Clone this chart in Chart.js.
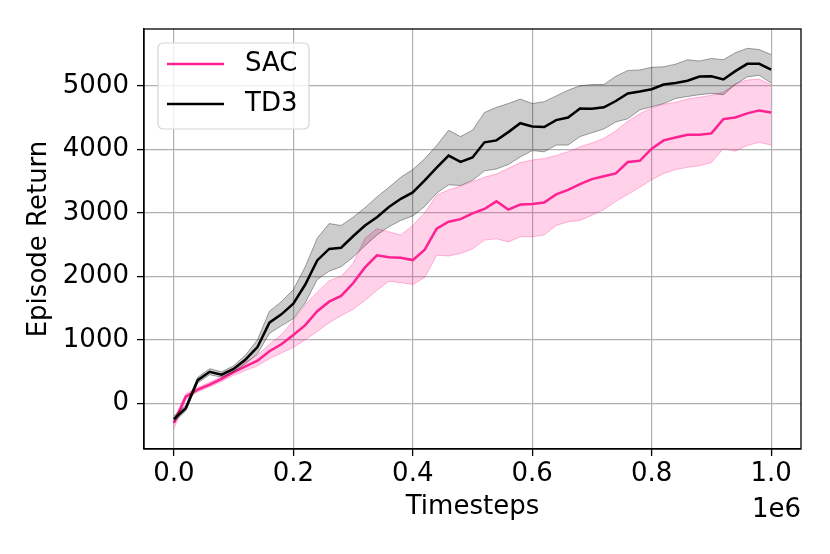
<!DOCTYPE html>
<html>
<head>
<meta charset="utf-8">
<script src="https://cdn.jsdelivr.net/npm/chart.js@4/dist/chart.umd.min.js"></script>
<style>
  html, body { margin: 0; padding: 0; background: #fff; }
  #wrap { width: 830px; height: 554px; }
</style>
</head>
<body>
<div id="wrap"><canvas id="myChart" width="830" height="554"></canvas></div>
<script>
// timesteps in units of 1e6
const timesteps = [0.00, 0.02, 0.04, 0.06, 0.08, 0.10, 0.12, 0.14, 0.16, 0.18,
                   0.20, 0.22, 0.24, 0.26, 0.28, 0.30, 0.32, 0.34, 0.36, 0.38,
                   0.40, 0.42, 0.44, 0.46, 0.48, 0.50, 0.52, 0.54, 0.56, 0.58,
                   0.60, 0.62, 0.64, 0.66, 0.68, 0.70, 0.72, 0.74, 0.76, 0.78,
                   0.80, 0.82, 0.84, 0.86, 0.88, 0.90, 0.92, 0.94, 0.96, 0.98, 1.00];

const sacMean  = [-312, 104, 215, 295, 385, 490, 580, 670, 820, 930,
                  1075, 1230, 1450, 1600, 1690, 1890, 2140, 2330, 2300, 2290,
                  2255, 2420, 2750, 2860, 2900, 2990, 3060, 3180, 3050, 3130,
                  3140, 3160, 3290, 3360, 3450, 3530, 3575, 3620, 3800, 3818,
                  4010, 4140, 4185, 4228, 4230, 4250, 4475, 4500, 4565, 4612, 4578];
const sacUpper = [-250, 150, 250, 330, 425, 545, 650, 760, 930, 1080,
                  1300, 1550, 1750, 1930, 2000, 2200, 2600, 2750, 2700, 2650,
                  2800, 3000, 3280, 3360, 3420, 3490, 3560, 3610, 3700, 3790,
                  3830, 3856, 3900, 3960, 4040, 4100, 4170, 4290, 4440, 4560,
                  4650, 4710, 4740, 4790, 4820, 4850, 4900, 5030, 5090, 5105, 5016];
const sacLower = [-400, 60, 180, 260, 345, 440, 515, 590, 700, 790,
                  880, 1000, 1130, 1270, 1380, 1480, 1620, 1780, 1920, 1900,
                  1870, 1980, 2330, 2320, 2360, 2430, 2570, 2590, 2540, 2622,
                  2622, 2650, 2800, 2858, 2880, 2960, 3050, 3180, 3290, 3400,
                  3520, 3620, 3680, 3715, 3740, 3790, 4013, 3970, 4060, 4110, 4066];

const td3Mean  = [-250, -78, 365, 495, 450, 540, 690, 885, 1270, 1400,
                  1570, 1870, 2250, 2430, 2450, 2630, 2800, 2930, 3090, 3220,
                  3320, 3510, 3710, 3900, 3800, 3870, 4110, 4140, 4270, 4410,
                  4360, 4350, 4459, 4500, 4643, 4640, 4660, 4760, 4880, 4910,
                  4945, 5020, 5045, 5080, 5145, 5148, 5100, 5230, 5345, 5345, 5253];
const td3Upper = [-200, -30, 410, 545, 495, 590, 760, 1000, 1450, 1600,
                  1790, 2150, 2600, 2830, 2800, 2930, 3080, 3250, 3400, 3560,
                  3680, 3850, 4060, 4300, 4200, 4300, 4580, 4660, 4720, 4790,
                  4720, 4750, 4840, 4930, 5000, 5020, 5020, 5150, 5240, 5250,
                  5290, 5300, 5340, 5410, 5390, 5430, 5410, 5520, 5590, 5570, 5491];
const td3Lower = [-300, -120, 320, 450, 410, 495, 625, 780, 1100, 1220,
                  1330, 1580, 1950, 2080, 2150, 2300, 2480, 2650, 2780, 2880,
                  2950, 3100, 3310, 3440, 3430, 3510, 3660, 3690, 3760, 3880,
                  3980, 3960, 4066, 4066, 4200, 4260, 4320, 4430, 4480, 4620,
                  4670, 4720, 4800, 4831, 4860, 4880, 4860, 5020, 5140, 5165, 5042];

const xTicks = [0, 0.2, 0.4, 0.6, 0.8, 1.0];
const yTicks = [0, 1000, 2000, 3000, 4000, 5000];
const seriesNames = ['SAC', 'TD3'];

const PINK = 'rgb(255, 32, 145)';
const FONT = 'DejaVu Sans';

function pts(ys) {
    return ys.map((y, i) => ({ x: timesteps[i], y: y }));
}

// legend, frame and offset text drawn like matplotlib
const extras = {
    id: 'extras',
    afterDatasetsDraw(chart) {
        const { ctx, chartArea } = chart;
        ctx.save();
        ctx.strokeStyle = '#000';
        ctx.lineWidth = 1.3;
        ctx.strokeRect(chartArea.left, chartArea.top,
            chartArea.right - chartArea.left, chartArea.bottom - chartArea.top);
        ctx.restore();
    },
    afterDraw(chart) {
        const { ctx, chartArea } = chart;
        ctx.save();
        // legend box
        const bx = 158, by = 43, bw = 151, bh = 86, r = 5;
        ctx.beginPath();
        ctx.moveTo(bx + r, by);
        ctx.arcTo(bx + bw, by, bx + bw, by + bh, r);
        ctx.arcTo(bx + bw, by + bh, bx, by + bh, r);
        ctx.arcTo(bx, by + bh, bx, by, r);
        ctx.arcTo(bx, by, bx + bw, by, r);
        ctx.closePath();
        ctx.fillStyle = 'rgba(255,255,255,0.8)';
        ctx.fill();
        ctx.strokeStyle = '#d5d5d5';
        ctx.lineWidth = 1.2;
        ctx.stroke();

        const colors = [PINK, '#000'];
        seriesNames.forEach((name, i) => {
            const y = 64 + i * 40;
            ctx.beginPath();
            ctx.moveTo(167, y);
            ctx.lineTo(224, y);
            ctx.strokeStyle = colors[i];
            ctx.lineWidth = 2.5;
            ctx.stroke();
            ctx.fillStyle = '#000';
            ctx.font = '26px "' + FONT + '"';
            ctx.textAlign = 'left';
            ctx.textBaseline = 'middle';
            ctx.fillText(name, 245, y);
        });

        // offset text
        ctx.font = '26px "' + FONT + '"';
        ctx.textAlign = 'right';
        ctx.textBaseline = 'alphabetic';
        ctx.fillStyle = '#000';
        ctx.fillText('1e6', chartArea.right, 517);
        ctx.restore();
    }
};

const ctx = document.getElementById('myChart').getContext('2d');
const myChart = new Chart(ctx, {
    type: 'line',
    data: {
        datasets: [
            { label: 'SAC upper', data: pts(sacUpper), borderColor: 'rgba(255,32,145,0.3)', borderWidth: 1,
              backgroundColor: 'rgba(255,32,145,0.2)', fill: '+1', order: 6 },
            { label: 'SAC lower', data: pts(sacLower), borderColor: 'rgba(255,32,145,0.3)', borderWidth: 1,
              fill: false, order: 6 },
            { label: 'SAC', data: pts(sacMean), borderColor: PINK, borderWidth: 2.5, fill: false, order: 4 },
            { label: 'TD3 upper', data: pts(td3Upper), borderColor: 'rgba(0,0,0,0.35)', borderWidth: 1,
              backgroundColor: 'rgba(0,0,0,0.2)', fill: '+1', order: 3 },
            { label: 'TD3 lower', data: pts(td3Lower), borderColor: 'rgba(0,0,0,0.35)', borderWidth: 1,
              fill: false, order: 3 },
            { label: 'TD3', data: pts(td3Mean), borderColor: '#000', borderWidth: 2.5, fill: false, order: 1 }
        ]
    },
    options: {
        responsive: false,
        animation: false,
        devicePixelRatio: 1,
        layout: { padding: { left: 0, right: 29, top: 29, bottom: 0 } },
        elements: { point: { radius: 0 }, line: { tension: 0 } },
        plugins: { legend: { display: false }, tooltip: { enabled: false } },
        scales: {
            x: {
                type: 'linear',
                min: -0.05,
                max: 1.05,
                afterBuildTicks: (scale) => { scale.ticks = xTicks.map(v => ({ value: v })); },
                afterFit: (scale) => { scale.height = 105; },
                ticks: {
                    color: '#000',
                    font: { family: FONT, size: 26 },
                    padding: 3,
                    maxRotation: 0,
                    autoSkip: false,
                    callback: (v) => Number(v).toFixed(1)
                },
                grid: { color: '#b0b0b0', lineWidth: 1.2, tickLength: 7, tickColor: '#000', tickWidth: 1.3 },
                border: { display: true, color: '#000', width: 1.3 },
                title: { display: true, text: 'Timesteps', color: '#000',
                         font: { family: FONT, size: 26 }, padding: { top: 0, bottom: 31 } }
            },
            y: {
                type: 'linear',
                min: -720,
                max: 5894,
                afterBuildTicks: (scale) => { scale.ticks = yTicks.map(v => ({ value: v })); },
                afterFit: (scale) => { scale.width = 144; },
                ticks: {
                    color: '#000',
                    font: { family: FONT, size: 26 },
                    padding: 8,
                    autoSkip: false,
                    callback: (v) => String(v)
                },
                grid: { color: '#b0b0b0', lineWidth: 1.2, tickLength: 7, tickColor: '#000', tickWidth: 1.3 },
                border: { display: true, color: '#000', width: 1.3 },
                title: { display: true, text: 'Episode Return', color: '#000',
                         font: { family: FONT, size: 26 }, padding: { top: 24, bottom: 0 } }
            }
        }
    },
    plugins: [extras]
});
</script>
</body>
</html>
